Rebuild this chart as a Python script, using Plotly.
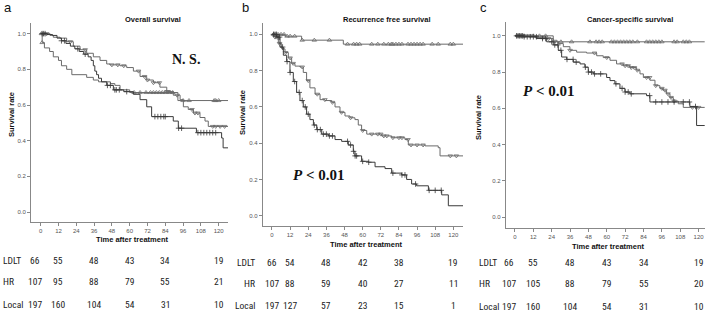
import numpy as np
import plotly.graph_objects as go

# ---------------- data (months, survival) ----------------
# Panel a: Overall survival
a_ldlt_t = [0, 1, 2.5, 6, 8.5, 12, 14, 17.5, 21, 31, 35.5, 39, 47, 50, 53.5, 60, 92.5, 126.3]
a_ldlt_s = [1.0, 0.95, 0.92, 0.90, 0.87, 0.85, 0.82, 0.80, 0.77, 0.755, 0.74, 0.73, 0.72, 0.71, 0.685, 0.67, 0.625, 0.625]
a_hr_t = [0, 6.3, 8.5, 13, 17.5, 22, 26.5, 31, 35.5, 40, 44.5, 46.7, 53.5, 58, 62.5, 67, 71.5, 76, 80.4, 85, 89.4, 94, 96.2, 99.5, 103, 107.4, 110.8, 113, 126.3]
a_hr_s = [1.0, 0.99, 0.98, 0.975, 0.955, 0.93, 0.91, 0.89, 0.87, 0.85, 0.83, 0.825, 0.82, 0.81, 0.79, 0.76, 0.74, 0.725, 0.70, 0.675, 0.655, 0.63, 0.59, 0.575, 0.555, 0.53, 0.51, 0.48, 0.48]
a_loc_t = [0, 4, 8, 11, 14, 17, 20, 23, 26, 29, 32, 34, 35.5, 36.5, 37.7, 39, 41, 44.5, 49, 56, 62.5, 67, 71.5, 74.8, 89.4, 92.8, 105, 122, 123, 126.3]
a_loc_s = [1.0, 0.995, 0.99, 0.975, 0.96, 0.945, 0.93, 0.915, 0.90, 0.885, 0.87, 0.85, 0.82, 0.79, 0.77, 0.75, 0.73, 0.71, 0.685, 0.675, 0.66, 0.63, 0.59, 0.535, 0.51, 0.47, 0.445, 0.415, 0.36, 0.36]
a_ldlt_c = [0.5, 1, 63, 67, 71, 74, 76, 78, 80, 82, 84, 87, 89, 96, 100, 117, 118, 120]
a_hr_c = [2, 4, 20, 30, 48, 52, 56, 66, 70, 72, 76, 80, 85, 86, 92, 102, 104, 106, 116, 118, 121, 124]
a_loc_c = [1, 2, 3, 14, 16, 25, 30, 45, 47, 50, 51, 53, 58, 77, 79, 81, 83, 84, 93, 95, 106, 108, 110, 112, 114, 116, 118]

# Panel b: Recurrence free survival
b_ldlt_t = [0, 8.6, 19.6, 47.2, 126.4]
b_ldlt_s = [1.0, 0.99, 0.968, 0.946, 0.946]
b_hr_t = [0, 2, 4.2, 6.4, 8.6, 10.8, 13, 15.2, 18.5, 20.7, 22.9, 25.1, 28.5, 31.8, 35.1, 39.5, 41.7, 45, 48.3, 51.6, 54.9, 57.1, 59.3, 62.7, 72.6, 79.2, 88, 90.2, 101.3, 110, 111.2, 126.4]
b_hr_s = [1.0, 0.985, 0.95, 0.92, 0.90, 0.87, 0.84, 0.825, 0.82, 0.79, 0.745, 0.705, 0.67, 0.64, 0.635, 0.625, 0.60, 0.57, 0.55, 0.54, 0.53, 0.50, 0.47, 0.45, 0.44, 0.43, 0.42, 0.39, 0.385, 0.375, 0.33, 0.33]
b_loc_t = [0, 3.1, 5.3, 7.5, 9.7, 11.9, 14.1, 16.3, 18.5, 20.7, 22.9, 25.1, 27.4, 29.6, 32.9, 37.3, 41.7, 46.1, 50.5, 53.8, 54.9, 59.3, 63.8, 68.2, 74.8, 79.2, 85.8, 89.1, 92.4, 95.7, 103.5, 112.3, 116.7, 126.4]
b_loc_s = [1.0, 0.985, 0.93, 0.885, 0.85, 0.79, 0.74, 0.68, 0.635, 0.60, 0.56, 0.53, 0.50, 0.475, 0.45, 0.44, 0.42, 0.41, 0.39, 0.355, 0.33, 0.30, 0.295, 0.27, 0.26, 0.235, 0.225, 0.20, 0.175, 0.165, 0.14, 0.115, 0.055, 0.055]
b_ldlt_c = [1, 2, 4, 6, 8, 10, 12, 15, 20, 28, 38, 50, 54, 56, 58, 66, 70, 74, 77, 79, 80, 82, 84, 86, 90, 92, 94, 96, 98, 100, 106, 110, 118, 120]
b_hr_c = [2, 3, 5, 9, 12, 14, 20, 24, 30, 35, 40, 46, 52, 60, 66, 70, 72, 74, 76, 80, 84, 86, 90, 92, 96, 100, 118, 122]
b_loc_c = [1, 2, 3, 4, 5, 7, 10, 12, 15, 18, 20, 22, 24, 28, 30, 32, 34, 36, 38, 40, 50, 52, 54, 55, 56, 60, 64, 80, 86, 88, 95, 104, 108, 112]

# Panel c: Cancer-specific survival
c_ldlt_t = [0, 25, 124]
c_ldlt_s = [1.0, 0.967, 0.967]
c_hr_t = [0, 12, 14.2, 20.7, 25, 28.3, 31.6, 35.9, 40.3, 46.8, 53.4, 57.7, 62.1, 66.4, 70.8, 75.1, 79.5, 81.7, 83.9, 88.2, 91.5, 94.7, 96.9, 99.1, 101.3, 103.5, 106.7, 110, 124]
c_hr_s = [1.0, 0.995, 0.99, 0.985, 0.97, 0.957, 0.94, 0.92, 0.91, 0.905, 0.89, 0.88, 0.865, 0.845, 0.835, 0.825, 0.81, 0.79, 0.77, 0.755, 0.725, 0.71, 0.70, 0.68, 0.66, 0.64, 0.625, 0.605, 0.605]
c_loc_t = [0, 5.4, 14.2, 20.7, 25, 28.3, 30.5, 33.8, 38.1, 42.5, 45.7, 47.9, 51.2, 59.9, 62.1, 65.3, 68.6, 71.9, 75.1, 86, 88.2, 114.3, 118.7, 124]
c_loc_s = [1.0, 0.995, 0.985, 0.967, 0.95, 0.92, 0.883, 0.87, 0.855, 0.845, 0.827, 0.80, 0.79, 0.77, 0.753, 0.735, 0.71, 0.69, 0.68, 0.67, 0.635, 0.61, 0.505, 0.505]
c_ldlt_c = [2, 4, 6, 12, 16, 20, 30, 37, 49, 53, 55, 57, 63, 65, 67, 69, 71, 73, 75, 77, 80, 86, 88, 90, 92, 94, 96, 104, 106, 110, 112, 114]
c_hr_c = [2, 4, 6, 10, 14, 18, 22, 26, 36, 52, 60, 70, 72, 74, 76, 78, 80, 86, 88, 92, 96, 98, 100, 102, 104, 116, 120]
c_loc_c = [1, 2, 3, 4, 5, 6, 8, 10, 12, 14, 18, 20, 24, 26, 28, 30, 34, 38, 40, 46, 48, 50, 52, 56, 66, 70, 72, 74, 76, 88, 92, 96, 100, 104, 110, 114, 118]

# risk table
risk_times = [0, 12, 36, 60, 84, 120]
groups = ["LDLT", "HR", "Local"]
a_risk = {"LDLT": [66, 55, 48, 43, 34, 19], "HR": [107, 95, 88, 79, 55, 21], "Local": [197, 160, 104, 54, 31, 10]}
b_risk = {"LDLT": [66, 54, 48, 42, 38, 19], "HR": [107, 88, 59, 40, 27, 11], "Local": [197, 127, 57, 23, 15, 1]}
c_risk = {"LDLT": [66, 55, 48, 43, 34, 19], "HR": [107, 105, 88, 79, 55, 20], "Local": [197, 160, 104, 54, 31, 10]}

titles = ["Overall survival", "Recurrence free survival", "Cancer-specific survival"]
y_ticks = [0.0, 0.2, 0.4, 0.6, 0.8, 1.0]
x_ticks = list(range(0, 121, 12))

# ---------------- layout geometry ----------------
W, H = 709, 311
def px_x(p): return p / W
def px_y(p): return 1 - p / H

panels = [
    dict(key="a", xd=[31, 228], yd=[23.3, 221.7], xr=[-6.54, 126.3], yr=[-0.054, 1.058],
         curves=[(a_ldlt_t, a_ldlt_s, a_ldlt_c), (a_hr_t, a_hr_s, a_hr_c), (a_loc_t, a_loc_s, a_loc_c)],
         risk=a_risk, rows=[260, 281.7, 304], lab_x=1, lab_anchor="left", first_shift=-6,
         title_x=153, ylab_x=11, ylab_y=115, xlab_y=240, letter_x=8,
         stat=("<b>N. S.</b>", 186, 60, 14)),
    dict(key="b", xd=[262.7, 463], yd=[23.3, 225.7], xr=[-6.15, 126.4], yr=[-0.055, 1.061],
         curves=[(b_ldlt_t, b_ldlt_s, b_ldlt_c), (b_hr_t, b_hr_s, b_hr_c), (b_loc_t, b_loc_s, b_loc_c)],
         risk=b_risk, rows=[262, 283, 305.7], lab_x=257, lab_anchor="right", first_shift=0,
         title_x=387, ylab_x=243, ylab_y=113, xlab_y=244, letter_x=245,
         stat=("<b><i>P</i> &lt; 0.01</b>", 318, 175, 15)),
    dict(key="c", xd=[505.7, 705], yd=[21.7, 227.7], xr=[-6.07, 124.2], yr=[-0.059, 1.078],
         curves=[(c_ldlt_t, c_ldlt_s, c_ldlt_c), (c_hr_t, c_hr_s, c_hr_c), (c_loc_t, c_loc_s, c_loc_c)],
         risk=c_risk, rows=[262.7, 283.3, 306], lab_x=477, lab_anchor="left", first_shift=-6,
         title_x=630, ylab_x=478, ylab_y=117, xlab_y=246, letter_x=483,
         stat=("<b><i>P</i> &lt; 0.01</b>", 548, 91, 15)),
]

line_colors = ["#6a6a6a", "#6a6a6a", "#3a3a3a"]
markers = ["triangle-up-open", "triangle-down-open", "cross-thin-open"]
table_font = "Liberation Sans Narrow, Arial Narrow, Roboto Condensed, Lato, sans-serif"

def step_value(t, s, x):
    t = np.asarray(t); s = np.asarray(s)
    idx = np.searchsorted(t, x, side="right") - 1
    return s[np.clip(idx, 0, len(s) - 1)]

fig = go.Figure()
annotations = []
layout = {}
for i, p in enumerate(panels):
    n = "" if i == 0 else str(i + 1)
    xa, ya = "x" + n, "y" + n
    for g, (t, s, c) in enumerate(p["curves"]):
        fig.add_trace(go.Scatter(x=t, y=s, mode="lines", line=dict(shape="hv", color=line_colors[g], width=1),
                                 xaxis=xa, yaxis=ya, showlegend=False, hoverinfo="skip"))
        cy = step_value(t, s, np.asarray(c))
        fig.add_trace(go.Scatter(x=c, y=cy, mode="markers",
                                 marker=dict(symbol=markers[g], size=4, color=line_colors[g],
                                             line=dict(width=0.8, color=line_colors[g])),
                                 xaxis=xa, yaxis=ya, showlegend=False, hoverinfo="skip"))
    axis_common = dict(showline=True, linecolor="#888", linewidth=1, ticks="outside", ticklen=3,
                       tickcolor="#888", tickwidth=1, showgrid=False, zeroline=False, automargin=False,
                       tickfont=dict(size=6, color="#555", family="Liberation Sans"))
    layout["xaxis" + n] = dict(domain=[px_x(p["xd"][0]), px_x(p["xd"][1])], range=p["xr"], anchor=ya,
                               tickvals=x_ticks, **axis_common)
    layout["yaxis" + n] = dict(domain=[px_y(p["yd"][1]), px_y(p["yd"][0])], range=p["yr"], anchor=xa,
                               tickvals=y_ticks, tickformat=".1f", **axis_common)
    annotations.append(dict(text="<b>" + titles[i] + "</b>", x=px_x(p["title_x"]), y=px_y(19), xref="paper", yref="paper",
                            xanchor="center", yanchor="middle", showarrow=False,
                            font=dict(size=7.5, family="Liberation Sans", color="#111")))
    annotations.append(dict(text=p["key"], x=px_x(p["letter_x"]), y=px_y(8), xref="paper", yref="paper",
                            xanchor="center", yanchor="middle", showarrow=False,
                            font=dict(size=13, family="Liberation Sans", color="#111")))
    annotations.append(dict(text="<b>Survival rate</b>", x=px_x(p["ylab_x"]), y=px_y(p["ylab_y"]), xref="paper", yref="paper",
                            xanchor="center", yanchor="middle", showarrow=False, textangle=-90,
                            font=dict(size=7.5, family="Liberation Sans", color="#111")))
    annotations.append(dict(text="<b>Time after treatment</b>", x=(px_x(p["xd"][0]) + px_x(p["xd"][1])) / 2 + 0.004,
                            y=px_y(p["xlab_y"]), xref="paper", yref="paper", xanchor="center", yanchor="middle",
                            showarrow=False, font=dict(size=7.5, family="Liberation Sans", color="#111")))
    st, sx, sy, ss = p["stat"]
    annotations.append(dict(text=st, x=px_x(sx), y=px_y(sy), xref="paper", yref="paper", showarrow=False,
                            xanchor="center", yanchor="middle",
                            font=dict(size=ss, family="Liberation Serif", color="#111")))
    for r, gname in enumerate(groups):
        yy = px_y(p["rows"][r])
        annotations.append(dict(text=gname, x=px_x(p["lab_x"]), y=yy, xref="paper", yref="paper",
                                xanchor=p["lab_anchor"], yanchor="middle", showarrow=False,
                                font=dict(size=9.5, family=table_font, color="#222")))
        for k, (tt, v) in enumerate(zip(risk_times, p["risk"][gname])):
            annotations.append(dict(text=str(v), x=tt, y=yy, xref=xa, yref="paper", showarrow=False,
                                    xanchor="center", yanchor="middle",
                                    xshift=p["first_shift"] if k == 0 else 0,
                                    font=dict(size=9.5, family=table_font, color="#222")))

fig.update_layout(width=W, height=H, margin=dict(l=0, r=0, t=0, b=0, autoexpand=False), paper_bgcolor="white",
                  plot_bgcolor="white", annotations=annotations, **layout)
fig.write_html("out.html", config={"displayModeBar": False},
               post_script="document.body.style.margin='0px';document.body.style.padding='0px';")
